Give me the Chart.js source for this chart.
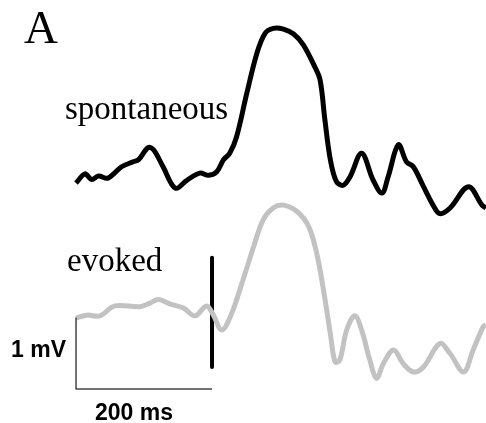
<!DOCTYPE html>
<html>
<head>
<meta charset="utf-8">
<script src="https://cdn.jsdelivr.net/npm/chart.js@4/dist/chart.umd.min.js"></script>
<style>
  html, body { margin: 0; padding: 0; background: #fff; }
  canvas { display: block; }
</style>
</head>
<body>
<canvas id="traces" width="486" height="423"></canvas>
<script>
// ===========================
// Spontaneous vs evoked traces
// ===========================

// time (ms) and potential (mV)
const spontTime = [0, 13, 23, 33, 47, 67, 84, 92, 106, 114, 128, 146, 163, 182, 195, 207, 217, 226, 236, 251, 266, 278, 290, 305, 320, 334, 351, 359, 366, 374, 383, 393, 403, 420, 437, 450, 459, 474, 486, 496, 511, 525, 535, 550, 577, 597, 603];
const spontMv = [2.90, 3.03, 2.95, 3.00, 2.97, 3.13, 3.20, 3.23, 3.40, 3.37, 3.13, 2.83, 2.94, 3.04, 3.01, 3.06, 3.23, 3.32, 3.55, 4.16, 4.73, 5.01, 5.08, 5.07, 5.00, 4.85, 4.54, 4.35, 3.79, 3.23, 2.92, 2.87, 2.99, 3.32, 2.94, 2.76, 2.99, 3.44, 3.20, 3.13, 2.85, 2.59, 2.47, 2.55, 2.85, 2.59, 2.55];

const evokedTime = [0, 16, 35, 57, 94, 109, 121, 138, 158, 175, 192, 202, 214, 227, 244, 261, 275, 290, 305, 325, 342, 354, 364, 374, 381, 388, 398, 410, 420, 432, 442, 452, 467, 481, 496, 511, 535, 550, 570, 584, 599, 603];
const evokedMv = [1.00, 1.04, 1.03, 1.17, 1.16, 1.21, 1.26, 1.20, 1.14, 1.03, 1.17, 1.04, 0.83, 1.02, 1.49, 2.00, 2.38, 2.55, 2.59, 2.50, 2.29, 1.91, 1.39, 0.78, 0.38, 0.41, 0.83, 1.03, 0.83, 0.41, 0.15, 0.36, 0.55, 0.36, 0.24, 0.31, 0.64, 0.50, 0.24, 0.55, 0.88, 0.90];

// stimulus marker and scale bar (200 ms x 1 mV)
const stimTime = [200, 200];
const stimMv = [1.85, 0.31];
const scaleTime = [0, 0, 200];
const scaleMv = [1, 0, 0];

const toPoints = (xs, ys) => xs.map((x, i) => ({ x: x, y: ys[i] }));

/**
 * Etiquetas de texto del panel
 */
const labelsPlugin = {
    id: 'panelLabels',
    afterDraw(chart) {
        const ctx = chart.ctx;
        const xs = chart.scales.x;
        ctx.save();
        ctx.fillStyle = '#000';
        ctx.textBaseline = 'alphabetic';

        ctx.font = '47px "Liberation Serif", serif';
        ctx.textAlign = 'left';
        ctx.fillText('A', 24, 43);

        ctx.font = '33px "Liberation Serif", serif';
        ctx.fillText('spontaneous', 65, 119);
        ctx.fillText('evoked', 67, 271);

        ctx.font = 'bold 23px "Liberation Sans", Arial, sans-serif';
        ctx.textAlign = 'right';
        ctx.fillText('1 mV', 66, 357);
        ctx.textAlign = 'center';
        ctx.fillText('200 ms', xs.getPixelForValue(100) - 10, 420);
        ctx.restore();
    }
};

new Chart(document.getElementById('traces'), {
    type: 'line',
    data: {
        datasets: [
            {
                label: 'scale',
                data: toPoints(scaleTime, scaleMv),
                borderColor: '#444',
                borderWidth: 1.5,
                tension: 0
            },
            {
                label: 'evoked',
                data: toPoints(evokedTime, evokedMv),
                borderColor: '#c2c2c2',
                borderWidth: 5,
                tension: 0.35
            },
            {
                label: 'spontaneous',
                data: toPoints(spontTime, spontMv),
                borderColor: '#000',
                borderWidth: 5,
                tension: 0.35
            },
            {
                label: 'stimulus',
                data: toPoints(stimTime, stimMv),
                borderColor: '#000',
                borderWidth: 4,
                tension: 0
            }
        ]
    },
    options: {
        responsive: false,
        animation: false,
        events: [],
        layout: { padding: 0 },
        elements: {
            point: { radius: 0 },
            line: { borderCapStyle: 'butt', borderJoinStyle: 'round', fill: false }
        },
        plugins: {
            legend: { display: false },
            tooltip: { enabled: false }
        },
        scales: {
            x: { type: 'linear', display: false, min: -111.8, max: 602.9 },
            y: { type: 'linear', display: false, min: -0.479, max: 5.479 }
        }
    },
    plugins: [labelsPlugin]
});
</script>
</body>
</html>
